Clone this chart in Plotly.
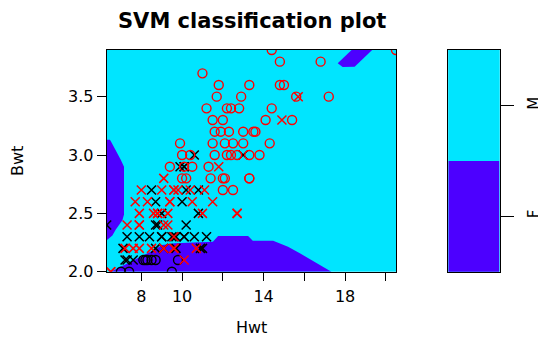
import plotly.graph_objects as go

# ---- data ----
# Female cats (black): Hwt, Bwt, support-vector flag (1 = "x", 0 = "o")
f_hwt = [7.0, 7.4, 9.5,
         7.2, 7.3, 7.6, 8.1, 8.2, 8.3, 8.5, 8.7, 9.8,
         7.1, 8.7, 9.1, 9.7, 10.9, 11.0,
         7.3, 7.9, 8.4, 9.0, 9.0, 9.5, 9.6, 9.7, 10.1, 10.1, 10.6, 11.2,
         6.3, 8.7, 8.8, 10.2,
         9.0, 10.8,
         8.7, 10.0,
         8.5, 10.2, 10.8,
         9.9, 10.1, 10.1,
         10.6, 13.0]
f_bwt = [2.0, 2.0, 2.0,
         2.1, 2.1, 2.1, 2.1, 2.1, 2.1, 2.1, 2.1, 2.1,
         2.2, 2.2, 2.2, 2.2, 2.2, 2.2,
         2.3, 2.3, 2.3, 2.3, 2.3, 2.3, 2.3, 2.3, 2.3, 2.3, 2.3, 2.3,
         2.4, 2.4, 2.4, 2.4,
         2.5, 2.5,
         2.6, 2.6,
         2.7, 2.7, 2.7,
         2.9, 2.9, 2.9,
         3.0, 3.0]
f_sv = [0, 0, 0,
        1, 1, 1, 0, 0, 0, 0, 0, 0,
        1, 1, 1, 1, 1, 1,
        1, 1, 1, 1, 1, 1, 1, 1, 1, 1, 1, 1,
        1, 1, 1, 1,
        1, 1,
        1, 1,
        1, 1, 1,
        1, 1, 1,
        1, 1]

# Male cats (red)
m_hwt = [6.5, 6.5,
         10.1,
         7.2, 7.6, 7.9, 8.5, 9.1, 9.6, 9.6, 10.7,
         9.6,
         7.3, 7.9, 7.9, 9.1, 9.3,
         7.9, 8.6, 8.8, 8.8, 9.3, 11.0, 12.7, 12.7,
         7.7, 8.3, 9.4, 9.4, 10.5, 11.5,
         8.0, 9.0, 9.6, 9.6, 9.8, 10.4, 11.1, 12.0, 12.5,
         9.1, 10.0, 10.2, 11.4, 12.0, 12.1, 13.3, 13.3,
         9.4, 10.1, 10.5, 11.3, 11.8,
         10.0, 10.4, 11.6, 12.2, 12.4, 12.7, 13.3, 13.8,
         9.9, 11.5, 12.1, 12.5, 13.0, 14.3,
         11.6, 11.9, 12.3, 13.0, 13.5, 13.6,
         11.5, 12.0, 14.1, 14.9, 15.4,
         11.2, 12.2, 12.4, 12.8, 14.4,
         11.7, 12.9, 15.6, 15.7, 17.2,
         11.8, 13.3, 14.8, 15.0,
         11.0,
         14.8, 16.8,
         14.4, 20.5]
m_bwt = [2.0, 2.0,
         2.1,
         2.2, 2.2, 2.2, 2.2, 2.2, 2.2, 2.2, 2.2,
         2.3,
         2.4, 2.4, 2.4, 2.4, 2.4,
         2.5, 2.5, 2.5, 2.5, 2.5, 2.5, 2.5, 2.5,
         2.6, 2.6, 2.6, 2.6, 2.6, 2.6,
         2.7, 2.7, 2.7, 2.7, 2.7, 2.7, 2.7, 2.7, 2.7,
         2.8, 2.8, 2.8, 2.8, 2.8, 2.8, 2.8, 2.8,
         2.9, 2.9, 2.9, 2.9, 2.9,
         3.0, 3.0, 3.0, 3.0, 3.0, 3.0, 3.0, 3.0,
         3.1, 3.1, 3.1, 3.1, 3.1, 3.1,
         3.2, 3.2, 3.2, 3.2, 3.2, 3.2,
         3.3, 3.3, 3.3, 3.3, 3.3,
         3.4, 3.4, 3.4, 3.4, 3.4,
         3.5, 3.5, 3.5, 3.5, 3.5,
         3.6, 3.6, 3.6, 3.6,
         3.7,
         3.8, 3.8,
         3.9, 3.9]
m_sv = [1, 1,
        1,
        1, 1, 1, 1, 1, 1, 1, 1,
        1,
        1, 1, 1, 1, 1,
        1, 1, 1, 1, 1, 1, 1, 1,
        1, 1, 1, 1, 1, 1,
        1, 1, 1, 1, 1, 1, 1, 0, 0,
        1, 0, 0, 0, 0, 0, 0, 0,
        0, 0, 0, 0, 1,
        0, 0, 0, 0, 0, 0, 0, 0,
        0, 0, 0, 0, 0, 0,
        0, 0, 0, 0, 0, 0,
        0, 0, 0, 1, 0,
        0, 0, 0, 0, 0,
        0, 0, 0, 1, 0,
        0, 0, 0, 0,
        0,
        0, 0,
        0, 0]

# Decision regions classified as "F" (outlines)
regF_left_h = [6.3, 6.46, 6.53, 6.66, 6.82, 6.99, 7.15, 7.15, 7.07, 6.90, 6.74, 6.58, 6.41, 6.3]
regF_left_b = [3.13, 3.13, 3.11, 3.07, 3.02, 2.96, 2.90, 2.49, 2.44, 2.40, 2.36, 2.31, 2.29, 2.27]
regF_bottom_h = [6.50, 7.15, 7.97, 8.62, 9.03, 9.65, 11.51, 11.77, 13.24, 13.47, 14.47,
                 14.80, 15.20, 15.78, 16.35, 16.92, 17.33]
regF_bottom_b = [2.00, 2.057, 2.129, 2.186, 2.229, 2.243, 2.257, 2.306, 2.306, 2.266, 2.266,
                 2.243, 2.214, 2.158, 2.100, 2.043, 2.00]
regF_top_h = [18.32, 19.33, 18.47, 17.88, 17.64]
regF_top_b = [3.90, 3.90, 3.757, 3.754, 3.786]

classes = ["F", "M"]
x_ticks = [8, 10, 12, 14, 16, 18, 20]
x_ticktext = ["8", "10", "", "14", "", "18", ""]
y_ticks = [2.0, 2.5, 3.0, 3.5]

COL_F_REGION = "#4C00FF"
COL_M_REGION = "#00E5FF"
FONT = "DejaVu Sans"

fig = go.Figure()

for h, b in [(regF_left_h, regF_left_b), (regF_bottom_h, regF_bottom_b), (regF_top_h, regF_top_b)]:
    fig.add_trace(go.Scatter(x=h, y=b, mode="lines", fill="toself",
                             fillcolor=COL_F_REGION, line=dict(width=0, color=COL_F_REGION),
                             hoverinfo="skip", showlegend=False))


def pts(hw, bw, sv, flag):
    return ([h for h, s in zip(hw, sv) if s == flag], [b for b, s in zip(bw, sv) if s == flag])


for hw, bw, sv, col in [(f_hwt, f_bwt, f_sv, "black"), (m_hwt, m_bwt, m_sv, "#FF0000")]:
    xo, yo = pts(hw, bw, sv, 0)
    xx, yx = pts(hw, bw, sv, 1)
    fig.add_trace(go.Scatter(x=xo, y=yo, mode="markers", showlegend=False,
                             marker=dict(symbol="circle-open", size=9, color=col,
                                         line=dict(width=1.4, color=col))))
    fig.add_trace(go.Scatter(x=xx, y=yx, mode="markers", showlegend=False,
                             marker=dict(symbol="x-thin-open", size=9, color=col,
                                         line=dict(width=1.5, color=col))))

# key
fig.add_trace(go.Heatmap(z=[[0], [1]], y=classes, x=[0], xaxis="x2", yaxis="y2",
                         colorscale=[[0, COL_F_REGION], [1, COL_M_REGION]],
                         showscale=False, hoverinfo="skip", xgap=0, ygap=0))

# the page body adds an 8 px offset; lay out in window pixels
OFF = 8
W, H = 546 - OFF, 338 - OFF
def fx(px):
    return (px - OFF) / W
def fy(py):
    return 1 - (py - OFF) / H

axis_common = dict(showgrid=False, zeroline=False, showline=True, linecolor="black",
                   linewidth=1, mirror=True, ticks="outside", tickcolor="black",
                   automargin=False,
                   tickfont=dict(family=FONT, size=16, color="black"))

fig.update_layout(
    width=W, height=H,
    margin=dict(l=0, r=0, t=0, b=0),
    paper_bgcolor="white",
    plot_bgcolor=COL_M_REGION,
    xaxis=dict(domain=[fx(106.7), fx(396)], range=[6.3, 20.5], tickvals=x_ticks,
               ticktext=x_ticktext, ticklen=8, ticklabelstandoff=2, **axis_common),
    yaxis=dict(domain=[fy(271.7), fy(50)], range=[2.0, 3.9], tickvals=y_ticks,
               tickformat=".1f", ticklen=9, ticksuffix="    ", **axis_common),
    xaxis2=dict(domain=[fx(448.3), fx(499.7)], range=[-0.5, 0.5], showticklabels=False,
                showgrid=False, zeroline=False, showline=True, linecolor="black",
                mirror=True, ticks="", anchor="y2", automargin=False),
    yaxis2=dict(domain=[fy(271.7), fy(50)], anchor="x2", side="right", showgrid=False,
                zeroline=False, showline=True, linecolor="black", mirror=True,
                ticks="outside", ticklen=13, tickcolor="black", tickangle=-90,
                automargin=False, ticklabelstandoff=7,
                tickfont=dict(family=FONT, size=15, color="black")),
    annotations=[
        dict(text="<b>SVM classification plot</b>", x=fx(251.5), y=1.0, xref="paper",
             yref="paper", showarrow=False, font=dict(family=FONT, size=21, color="black"),
             xanchor="center", yanchor="top", borderpad=0),
        dict(text="Hwt", x=fx(251.5), y=fy(337.5), xref="paper", yref="paper",
             showarrow=False, font=dict(family=FONT, size=16, color="black"),
             xanchor="center", yanchor="bottom", borderpad=0),
        dict(text="Bwt", x=fx(17), y=fy(161), xref="paper", yref="paper",
             showarrow=False, textangle=-90, font=dict(family=FONT, size=16, color="black"),
             xanchor="center", yanchor="middle"),
    ],
)

fig.write_html("out.html")
